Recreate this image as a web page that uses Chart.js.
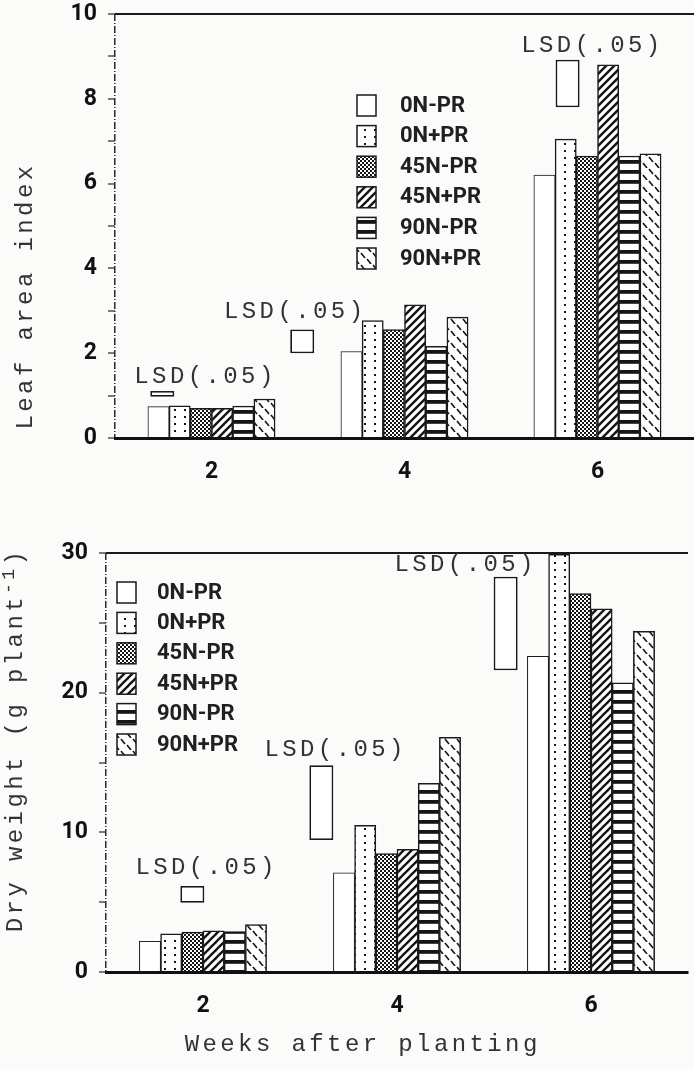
<!DOCTYPE html>
<html>
<head>
<meta charset="utf-8">
<script src="https://cdn.jsdelivr.net/npm/chart.js@4.4.1/dist/chart.umd.min.js"></script>
<style>
  body { margin: 0; background: #fbfbfa; width: 694px; height: 1069px; overflow: hidden; position: relative; }
  canvas { position: absolute; left: 0; }
  #laiChart { top: 0; }
  #dwChart { top: 510px; }
</style>
</head>
<body>
<canvas id="laiChart" width="694" height="500"></canvas>
<canvas id="dwChart" width="694" height="559"></canvas>
<script>
var weeks = [2, 4, 6];
var treatments = ['0N-PR', '0N+PR', '45N-PR', '45N+PR', '90N-PR', '90N+PR'];

// leaf area index at weeks 2, 4, 6
var lai0Nminus = [0.74, 2.04, 6.2];
var lai0Nplus = [0.76, 2.77, 7.05];
var lai45Nminus = [0.7, 2.56, 6.65];
var lai45Nplus = [0.7, 3.14, 8.8];
var lai90Nminus = [0.75, 2.16, 6.65];
var lai90Nplus = [0.92, 2.85, 6.7];
// LSD(.05) boxes: where they sit along the week axis, bottom and top
var laiLsdAt = [1.49, 2.94, 5.69];
var laiLsdLow = [0.97, 2.0, 7.8];
var laiLsdHigh = [1.11, 2.56, 8.92];
var laiTicks = [0, 2, 4, 6, 8, 10];

// dry weight (g plant-1) at weeks 2, 4, 6
var dw0Nminus = [2.2, 7.1, 22.6];
var dw0Nplus = [2.74, 10.5, 29.9];
var dw45Nminus = [2.86, 8.47, 27.1];
var dw45Nplus = [2.94, 8.78, 26.0];
var dw90Nminus = [2.9, 13.5, 20.7];
var dw90Nplus = [3.39, 16.8, 24.4];
var dwLsdAt = [1.89, 3.22, 5.12];
var dwLsdLow = [4.96, 9.45, 21.6];
var dwLsdHigh = [6.16, 14.8, 28.3];
var dwTicks = [0, 10, 20, 30];

var lsdLabel = 'LSD(.05)';
var laiTitle = [['Leaf area index', 0]];
var dwTitle = [['Dry weight (g plant', 0], ['-1', 7], [')', 0]];
var xTitle = 'Weeks after planting';

function tile(w, h, draw) {
  var c = document.createElement('canvas');
  c.width = w; c.height = h;
  var g = c.getContext('2d');
  g.fillStyle = '#fff';
  g.fillRect(0, 0, w, h);
  g.fillStyle = '#151515';
  g.strokeStyle = '#151515';
  draw(g);
  return g.createPattern(c, 'repeat');
}
function line(g, a, b, c, d) { g.beginPath(); g.moveTo(a, b); g.lineTo(c, d); g.stroke(); }

var fills = [
  '#ffffff',
  tile(10, 7, function (g) { g.fillRect(4, 3, 2, 2); }),
  tile(4, 4, function (g) { g.fillRect(0, 0, 2, 2); g.fillRect(2, 2, 2, 2); }),
  tile(8, 8, function (g) { g.lineWidth = 2.4; line(g, 0, 8, 8, 0); line(g, -4, 4, 4, -4); line(g, 4, 12, 12, 4); }),
  tile(4, 10, function (g) { g.fillRect(0, 0, 4, 3.8); }),
  tile(12, 12, function (g) { g.lineWidth = 1.6; line(g, 1, 1, 5, 6); line(g, 7, 7, 11, 12); })
];

function barSets(series) {
  return series.map(function (vals, i) {
    return {
      label: treatments[i],
      data: vals.map(function (v, k) { return { x: weeks[k], y: v }; }),
      backgroundColor: fills[i],
      borderColor: '#1a1a1a',
      borderWidth: i === 0 ? 1 : 1.5,
      barThickness: 21.2
    };
  });
}

function lsdSet(at, lo, hi) {
  return {
    label: lsdLabel,
    grouped: false,
    data: at.map(function (x, i) { return { x: x, y: [lo[i], hi[i]] }; }),
    backgroundColor: '#ffffff',
    borderColor: '#1a1a1a',
    borderWidth: 1.8,
    borderSkipped: false,
    categoryPercentage: 1,
    barPercentage: 10,
    maxBarThickness: 24
  };
}

var paperText = {
  id: 'paperText',
  afterDraw: function (chart, args, o) {
    var ctx = chart.ctx, xs = chart.scales.x, ys = chart.scales.y;
    var mono = '24px "Liberation Mono", "DejaVu Sans Mono", monospace';
    var sup = '18px "Liberation Mono", "DejaVu Sans Mono", monospace';
    ctx.save();
    ctx.fillStyle = '#333';
    ctx.font = mono;
    ctx.letterSpacing = '3.4px';
    ctx.textBaseline = 'middle';
    ctx.textAlign = 'center';
    o.lsdText.forEach(function (p) {
      ctx.fillText(lsdLabel, xs.getPixelForValue(p[0]) + 1.7, ys.getPixelForValue(p[1]));
    });

    // rotated y title, parts may be raised (superscript)
    ctx.save();
    ctx.translate(o.yTitleAt[0], o.yTitleAt[1]);
    ctx.rotate(-Math.PI / 2);
    ctx.textAlign = 'left';
    var total = 0;
    o.yTitle.forEach(function (p) {
      ctx.font = p[1] ? sup : mono;
      total += ctx.measureText(p[0]).width;
    });
    var cx = -total / 2;
    o.yTitle.forEach(function (p) {
      ctx.font = p[1] ? sup : mono;
      ctx.fillText(p[0], cx, -p[1]);
      cx += ctx.measureText(p[0]).width;
    });
    ctx.restore();

    if (o.xTitle) {
      ctx.fillText(o.xTitle, o.xTitleAt[0] + 1.7, o.xTitleAt[1]);
    }

    // legend
    ctx.letterSpacing = '0px';
    ctx.font = 'bold 22px Roboto, "DejaVu Sans", sans-serif';
    ctx.textAlign = 'left';
    var L = o.legendAt;
    treatments.forEach(function (name, i) {
      var ds = chart.data.datasets[i];
      var cy = L[1] + i * L[2];
      ctx.fillStyle = ds.backgroundColor;
      ctx.fillRect(L[0], cy - 10, 19, 21);
      ctx.lineWidth = 1.5;
      ctx.strokeStyle = '#1a1a1a';
      ctx.strokeRect(L[0], cy - 10, 19, 21);
      ctx.fillStyle = '#202020';
      ctx.fillText(ds.label, L[3], cy + 1);
    });
    ctx.restore();
  }
};

function makeChart(id, o) {
  var tickFont = { family: 'Roboto', weight: 'bold', size: 23 };
  return new Chart(document.getElementById(id), {
    type: 'bar',
    data: {
      datasets: barSets(o.series).concat([lsdSet(o.lsdAt, o.lsdLow, o.lsdHigh)])
    },
    options: {
      responsive: false,
      animation: false,
      layout: { padding: { top: o.top, right: o.right, left: 0, bottom: 0 } },
      plugins: {
        legend: { display: false },
        tooltip: { enabled: false },
        paperText: o.text
      },
      scales: {
        x: {
          type: 'linear',
          min: 1,
          max: 7,
          offset: false,
          afterBuildTicks: function (s) {
            s.ticks = [s.min].concat(weeks).map(function (v) { return { value: v }; });
          },
          // the only x grid line drawn is the dash-dot left axis
          grid: {
            offset: false,
            drawTicks: false,
            color: function (c) { return c.tick && c.tick.value === 1 ? '#2a2a2a' : 'rgba(0,0,0,0)'; },
            lineWidth: 1.5
          },
          border: { display: true, color: '#111', width: 3, dash: [7, 2, 1, 2] },
          ticks: {
            autoSkip: false,
            font: tickFont,
            color: '#111',
            padding: 20,
            callback: function (v) { return weeks.indexOf(v) >= 0 ? String(v) : ''; }
          },
          afterFit: function (s) { s.height = o.xh; }
        },
        y: {
          min: 0,
          max: o.max,
          ticks: {
            autoSkip: false,
            stepSize: o.step,
            font: tickFont,
            color: '#111',
            padding: 11,
            callback: function (v) { return o.ticks.indexOf(v) >= 0 ? v : ''; }
          },
          grid: {
            color: function (c) { return c.tick && c.tick.value === o.max ? '#1a1a1a' : 'rgba(0,0,0,0)'; },
            lineWidth: 2,
            tickColor: '#333',
            tickLength: 7,
            tickWidth: 1.3
          },
          border: { display: false },
          afterFit: function (s) { s.width = o.yw; s.paddingTop = 0; s.paddingBottom = 0; }
        }
      }
    },
    plugins: [paperText]
  });
}

makeChart('laiChart', {
  series: [lai0Nminus, lai0Nplus, lai45Nminus, lai45Nplus, lai90Nminus, lai90Nplus],
  lsdAt: laiLsdAt, lsdLow: laiLsdLow, lsdHigh: laiLsdHigh,
  max: 10, step: 1, ticks: laiTicks,
  top: 14, right: 0, xh: 62, yw: 115,
  text: {
    lsdText: [[1.92, 1.44], [2.85, 2.98], [5.93, 9.25]],
    yTitle: laiTitle, yTitleAt: [26, 296],
    legendAt: [357, 105, 30.6, 400]
  }
});

makeChart('dwChart', {
  series: [dw0Nminus, dw0Nplus, dw45Nminus, dw45Nplus, dw90Nminus, dw90Nplus],
  lsdAt: dwLsdAt, lsdLow: dwLsdLow, lsdHigh: dwLsdHigh,
  max: 30, step: 5, ticks: dwTicks,
  top: 43, right: 6, xh: 97, yw: 106,
  text: {
    lsdText: [[2.02, 7.44], [3.35, 15.9], [4.69, 29.2]],
    yTitle: dwTitle, yTitleAt: [16, 230],
    xTitle: xTitle, xTitleAt: [361, 535],
    legendAt: [117, 82, 30.4, 157]
  }
});
</script>
</body>
</html>
